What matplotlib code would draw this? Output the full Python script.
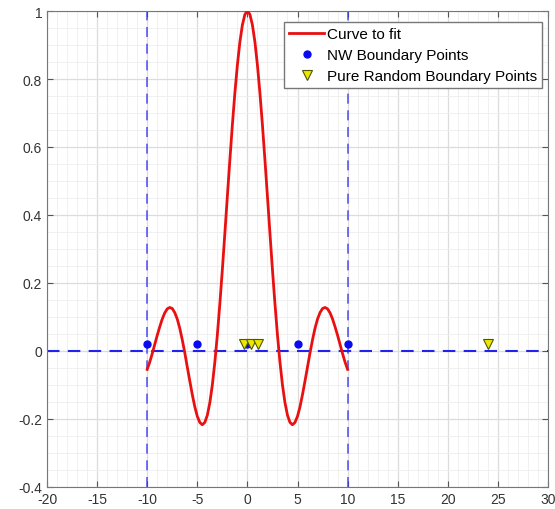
import matplotlib
matplotlib.use("Agg")
import matplotlib.pyplot as plt
import numpy as np

plt.rcParams['font.family'] = ['Liberation Sans', 'DejaVu Sans']
plt.rcParams['axes.unicode_minus'] = False

# curve (right half, mirrored for the left)
x_half = [0, 0.25, 0.5, 0.75, 1, 1.25, 1.5, 1.75, 2, 2.25, 2.5, 2.75, 3, 3.25, 3.5, 3.75,
          4, 4.25, 4.5, 4.75, 5, 5.25, 5.5, 5.75, 6, 6.25, 6.5, 6.75, 7, 7.25, 7.5, 7.75,
          8, 8.25, 8.5, 8.75, 9, 9.25, 9.5, 9.75, 10]
y_half = [1.0, 0.990, 0.959, 0.909, 0.841, 0.759, 0.665, 0.562, 0.455, 0.346, 0.239, 0.139,
          0.047, -0.033, -0.100, -0.152, -0.189, -0.210, -0.217, -0.210, -0.192, -0.164,
          -0.128, -0.088, -0.047, -0.005, 0.033, 0.067, 0.094, 0.113, 0.125, 0.128,
          0.124, 0.112, 0.094, 0.071, 0.046, 0.019, -0.008, -0.033, -0.054]
curve_x = [-v for v in x_half[:0:-1]] + x_half
curve_y = y_half[:0:-1] + y_half

# boundary points
nw_x = [-10, -5, 0, 5, 10]
nw_y = [0.02, 0.02, 0.02, 0.02, 0.02]
rand_x = [-0.3, 0.4, 1.1, 24.0]
rand_y = [0.02, 0.02, 0.02, 0.02]

fig = plt.figure(figsize=(5.55, 5.10), dpi=100)
ax = fig.add_axes([47/555, 22/510, 501/555, 476/510])

ax.axvline(-10, color='#3333ee', ls='--', lw=1.2, dashes=(6, 4), alpha=0.8, zorder=2)
ax.axvline(10, color='#3333ee', ls='--', lw=1.2, dashes=(6, 4), alpha=0.8, zorder=2)
ax.axhline(0, color='#2222ee', ls='--', lw=1.5, dashes=(6, 4), zorder=2)

ax.plot(curve_x, curve_y, color='#e81010', lw=2.0, label='Curve to fit', zorder=3)
ax.plot(nw_x, nw_y, 'o', color='#0a0af0', ms=5, label='NW Boundary Points', zorder=4)
ax.plot(rand_x, rand_y, 'v', mfc='#e8e800', mec='#555500', mew=0.8, ms=7.5,
        label='Pure Random Boundary Points', zorder=5)

ax.set_xlim(-20, 30)
ax.set_ylim(-0.4, 1)
ax.set_xticks(np.arange(-20, 31, 5))
ax.set_yticks([-0.4, -0.2, 0, 0.2, 0.4, 0.6, 0.8, 1])
ax.set_yticklabels(['-0.4', '-0.2', '0', '0.2', '0.4', '0.6', '0.8', '1'])
ax.set_xticks(np.arange(-20, 31, 1), minor=True)
ax.set_yticks(np.arange(-0.4, 1.001, 0.05), minor=True)

ax.grid(True, which='major', color='#dcdcdc', lw=0.9)
ax.grid(True, which='minor', color='#eeeeee', lw=0.6)
ax.set_axisbelow(True)

ax.tick_params(which='both', direction='in', top=True, right=True, colors='#555555',
               labelcolor='#333333', labelsize=10)
ax.tick_params(which='minor', length=0)
ax.tick_params(which='major', length=4)
for s in ax.spines.values():
    s.set_color('#777777')

# legend corner placed at about (542, 23) px
ax.legend(loc='upper right', bbox_to_anchor=((542 - 47) / 501, (488 - 23) / 476),
          fontsize=11, frameon=True, fancybox=False, edgecolor='#777777',
          borderpad=0.35, labelspacing=0.45, handlelength=2.3, handletextpad=0.15,
          borderaxespad=0, framealpha=1)

fig.savefig('out.png', dpi=100)
